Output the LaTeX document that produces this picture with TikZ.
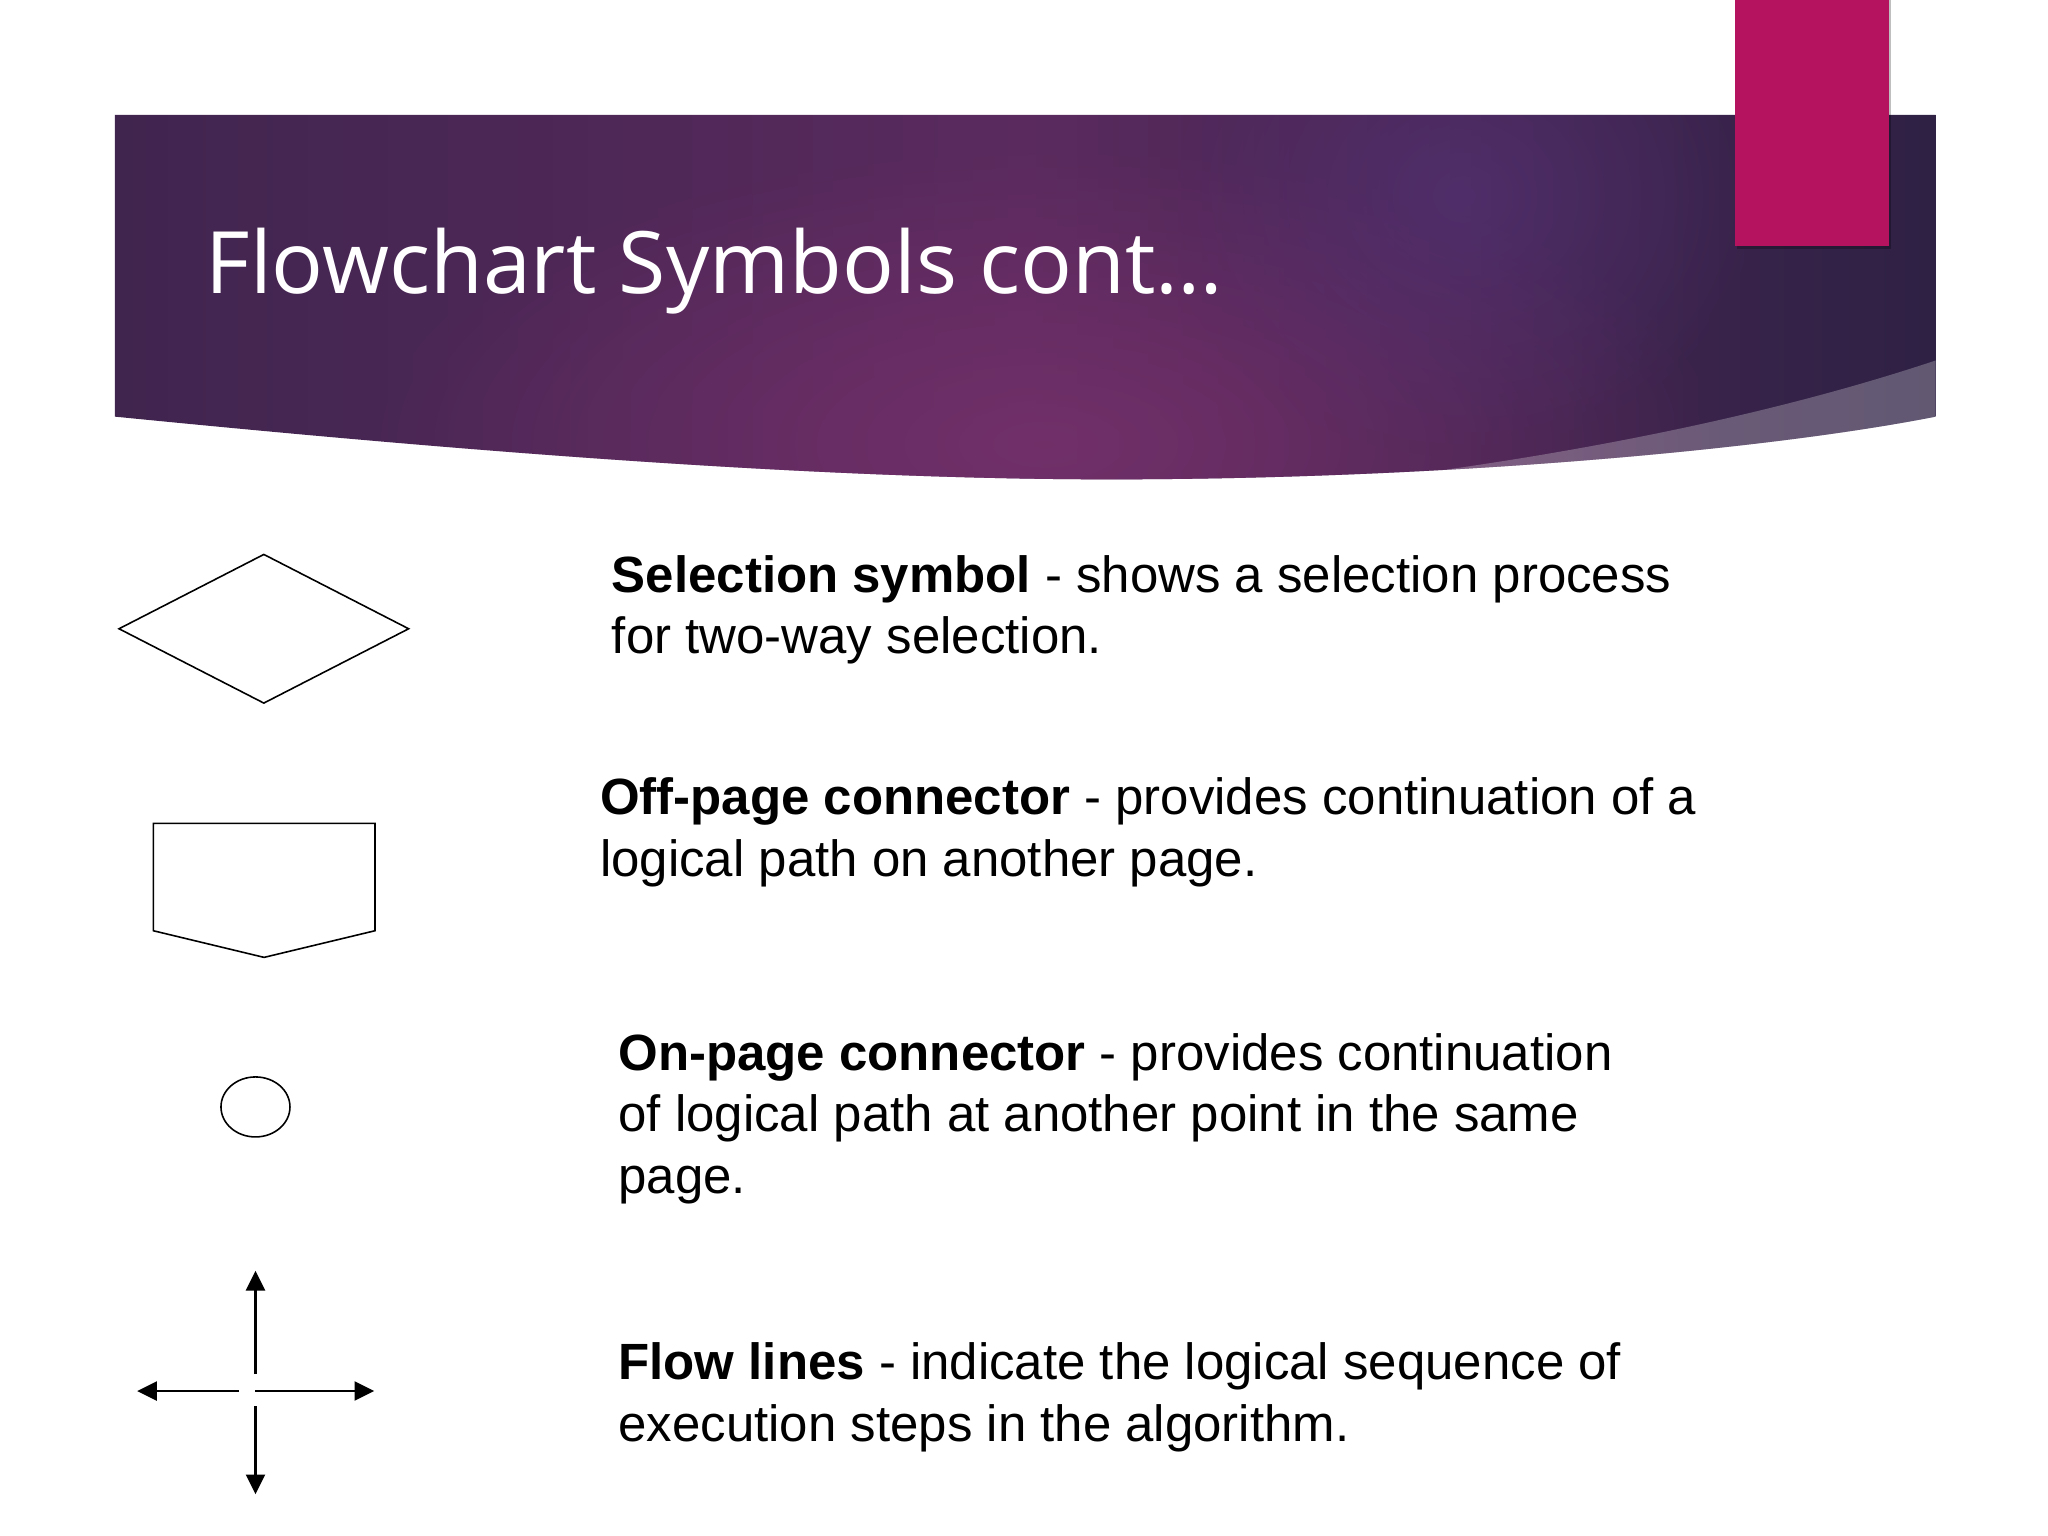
\documentclass[tikz,border=0pt]{standalone}
\usepackage{fontspec}
\setmainfont{Liberation Sans}
\newfontfamily\titlefont{Open Sans}
\usetikzlibrary{arrows.meta,shapes.geometric,fadings}

\definecolor{bannerleft}{HTML}{40254F}
\definecolor{bannermid}{HTML}{5A2A5E}
\definecolor{bannerright}{HTML}{2E2144}
\definecolor{bannerglow}{HTML}{74306A}
\definecolor{bannerblue}{HTML}{573379}
\definecolor{accentpink}{HTML}{B5135F}

\tikzfading[name=softglow, inner color=transparent!0, outer color=transparent!100]

\tikzset{
  symbolline/.style={draw=black, line width=0.45pt},
  flowarrow/.style={->, line width=0.65pt},
  desc/.style={anchor=base west, align=left, inner sep=0pt, font=\fontsize{14.5}{17.5}\selectfont},
  heading/.style={anchor=base west, inner sep=0pt, text=white, font=\titlefont\fontsize{24.5}{28}\selectfont}
}

\begin{document}
\begin{tikzpicture}[x=0.013061cm, y=-0.013061cm, >={Triangle[length=5.6pt,width=5.4pt]}]

  \useasboundingbox (0,0) rectangle (1568,1176);
  \fill[white] (0,0) rectangle (1568,1176);

  % banner
  \begin{scope}
    \clip (88,88) -- (1482,88) -- (1482,319) .. controls (1350,345) and (1100,367) .. (850,367)
          .. controls (600,367) and (300,340) .. (88,319) -- cycle;
    \shade[left color=bannerleft, right color=bannerright, middle color=bannermid] (88,88) rectangle (1482,370);
    \fill[bannerglow, path fading=softglow, opacity=0.9] (800,340) ellipse (520 and 230);
    \fill[bannerblue, path fading=softglow, opacity=0.6] (1120,150) ellipse (230 and 200);
    \fill[white, opacity=0.25] (1090,362) .. controls (1250,340) and (1380,310) .. (1482,276)
          -- (1482,380) -- (1090,380) -- cycle;
  \end{scope}

  % pink tab
  \fill[black, opacity=0.25] (1330,0) rectangle (1448,191);
  \fill[accentpink] (1328,0) rectangle (1446,188.5);

  \node[heading] (title) at (157,224.6) {Flowchart Symbols cont…};

  % symbols
  \node[diamond, symbolline, minimum width=2.903cm, minimum height=1.493cm, inner sep=0pt] (selection) at (202,481.4) {};

  \draw[symbolline] (117.4,630.4) -- (287.1,630.4) -- (287.1,712.6) -- (202.2,733) -- (117.4,712.6) -- cycle;

  \node[ellipse, symbolline, minimum width=0.69cm, minimum height=0.60cm, inner sep=0pt] (onpage) at (195.6,847.5) {};

  \coordinate (up-from) at (195.6,1052);
  \coordinate (up-to) at (195.6,973);
  \coordinate (left-from) at (183,1065);
  \coordinate (left-to) at (105,1065);
  \coordinate (right-from) at (195.6,1065);
  \coordinate (right-to) at (286.5,1065);
  \coordinate (down-from) at (195.6,1076.5);
  \coordinate (down-to) at (195.6,1144);

  \foreach \dir in {up, left, right, down}
    {
    \draw[flowarrow] (\dir-from) -- (\dir-to);
    }

  % descriptions (base = last line)
  \node[desc] (seltext) at (468,500.5) {\textbf{Selection symbol} - shows a selection process\\for two-way selection.};
  \node[desc] (offtext) at (459,671) {\textbf{Off-page connector} - provides continuation of a\\logical path on another page.};
  \node[desc] (ontext) at (473,913.5) {\textbf{On-page connector} - provides continuation\\of logical path at another point in the same\\page.};
  \node[desc] (flowtext) at (473,1103.5) {\textbf{Flow lines} - indicate the logical sequence of\\execution steps in the algorithm.};

\end{tikzpicture}
\end{document}
